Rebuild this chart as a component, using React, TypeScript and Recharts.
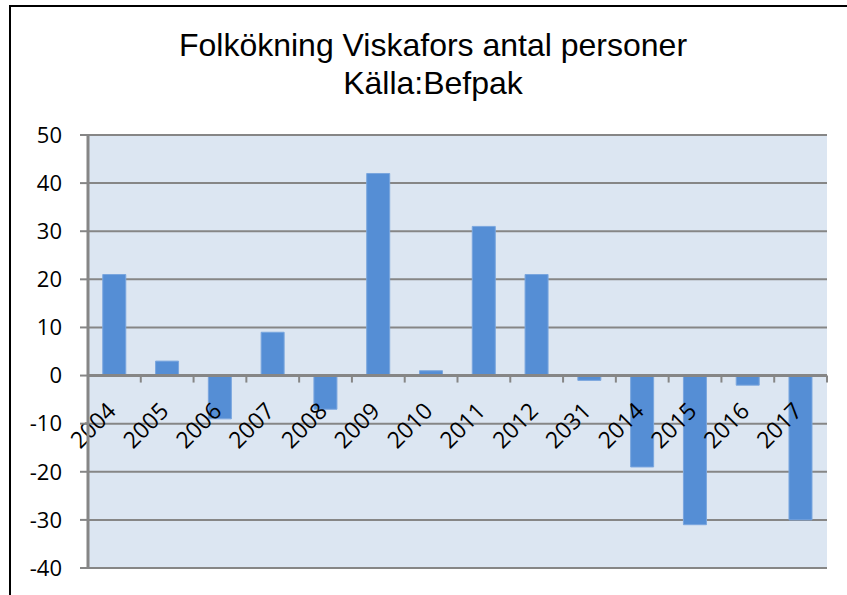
import React from 'react';
import { BarChart, Bar, XAxis, YAxis, CartesianGrid, ReferenceLine } from 'recharts';

const years = ['2004', '2005', '2006', '2007', '2008', '2009', '2010', '2011', '2012', '2031', '2014', '2015', '2016', '2017'];
const growth = [21, 3, -9, 9, -7, 42, 1, 31, 21, -1, -19, -31, -2, -30];
const yTicks = [-40, -30, -20, -10, 0, 10, 20, 30, 40, 50];

const data = years.map((year, i) => ({ year, value: growth[i] }));

const AXIS = '#868686';
const FONT = '"Open Sans", sans-serif';

// zero line acts as the category axis, with rotated year labels under it
const ZeroAxis = (props: any) => {
  const { x1, x2, y1 } = props;
  const step = (x2 - x1) / years.length;
  return (
    <g>
      {years.map((y, i) => (
        <line key={`t-${y}`} x1={x1 + (i + 1) * step} x2={x1 + (i + 1) * step} y1={y1} y2={y1 + 7} stroke={AXIS} strokeWidth={2} />
      ))}
      <line x1={x1} x2={x2} y1={y1} y2={y1} stroke={AXIS} strokeWidth={3} />
      {years.map((y, i) => {
        const cx = x1 + (i + 0.5) * step + 3;
        const cy = y1 + 37;
        return (
          <text key={`l-${y}`} x={cx} y={cy} transform={`rotate(-45 ${cx} ${cy})`} textAnchor="end"
            fontFamily={FONT} fontSize={23} fill="#000">{y}</text>
        );
      })}
    </g>
  );
};

export default function App() {
  return (
    <div style={{ position: 'absolute', left: 0, top: 0, width: 847, height: 595, background: '#fff', overflow: 'hidden' }}>
      <div style={{ position: 'absolute', left: 9, top: 5, width: 860, height: 620, borderLeft: '2px solid #000', borderTop: '2px solid #000' }} />
      <div style={{ position: 'absolute', left: 0, top: 26, width: 866, textAlign: 'center', fontFamily: '"Liberation Sans", Arial, sans-serif', fontSize: 32, lineHeight: '38px', color: '#000' }}>
        <div>Folkökning Viskafors antal personer</div>
        <div>Källa:Befpak</div>
      </div>
      <div style={{ position: 'absolute', left: 0, top: 0 }}>
        <BarChart width={847} height={595} data={data} margin={{ top: 135, right: 20, bottom: 27, left: 0 }} barCategoryGap="28%">
          <CartesianGrid vertical={false} fill="#dce6f2" stroke={AXIS} strokeWidth={2} />
          <XAxis dataKey="year" hide />
          <YAxis domain={[-40, 50]} ticks={yTicks} width={88} interval={0}
            axisLine={{ stroke: AXIS, strokeWidth: 3 }} tickLine={{ stroke: AXIS, strokeWidth: 2 }}
            tickSize={8} tickMargin={18}
            tick={{ fill: '#000', fontSize: 22, fontFamily: FONT }} />
          <Bar dataKey="value" fill="#558ed5" stroke="#7aa6de" strokeWidth={1} isAnimationActive={false} />
          <ReferenceLine y={0} shape={ZeroAxis} />
        </BarChart>
      </div>
    </div>
  );
}
